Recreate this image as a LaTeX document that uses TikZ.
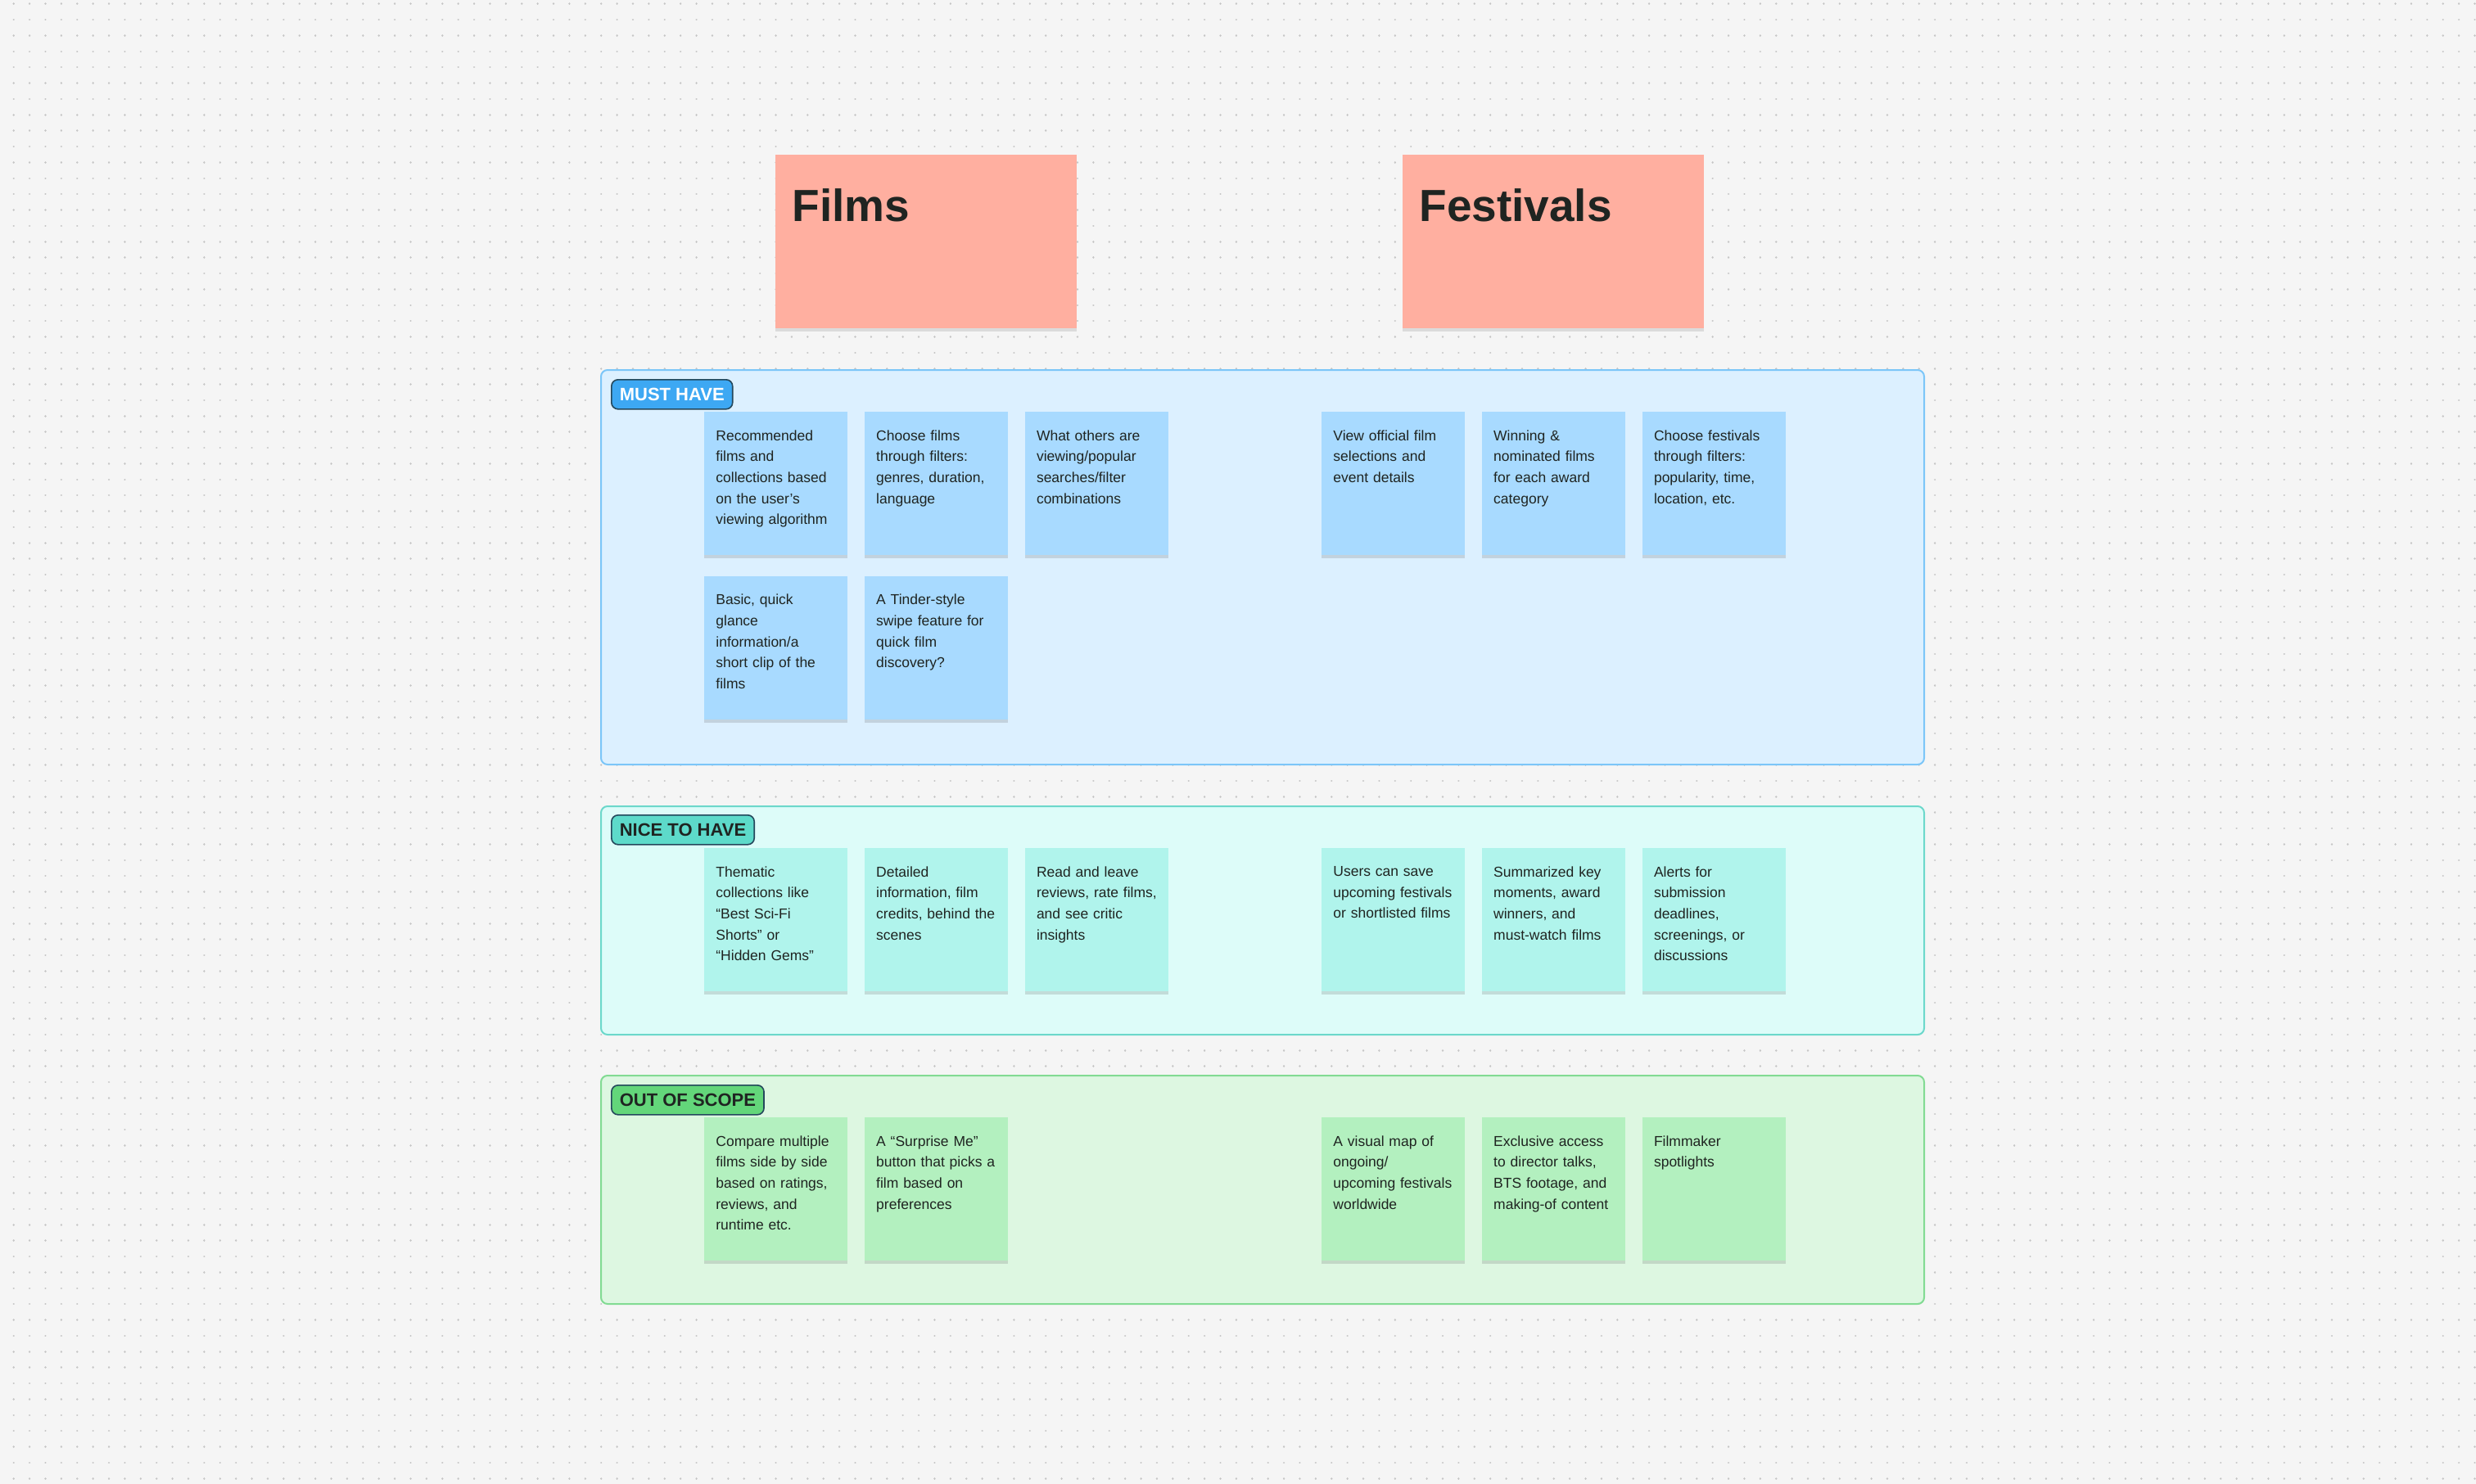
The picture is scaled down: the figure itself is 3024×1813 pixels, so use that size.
\documentclass[tikz,border=0pt]{standalone}
\usepackage{fontspec}
\setmainfont{Liberation Sans}
\usetikzlibrary{positioning,shadows}

\definecolor{canvas}{HTML}{F5F5F5}
\definecolor{dotgray}{HTML}{C6C6C6}
\definecolor{ink}{HTML}{1F2421}
\definecolor{titlenote}{HTML}{FFAFA0}
\definecolor{mustbg}{HTML}{DCF0FF}
\definecolor{mustline}{HTML}{7CC6F8}
\definecolor{mustnote}{HTML}{A8DAFF}
\definecolor{musttag}{HTML}{3DA8F3}
\definecolor{nicebg}{HTML}{DDFCF9}
\definecolor{niceline}{HTML}{6CD8CB}
\definecolor{nicenote}{HTML}{B0F4EC}
\definecolor{nicetag}{HTML}{5DDACA}
\definecolor{outbg}{HTML}{DDF7E1}
\definecolor{outline}{HTML}{82DB93}
\definecolor{outnote}{HTML}{B3F0BF}
\definecolor{outtag}{HTML}{63D67A}
\definecolor{tagline}{HTML}{24485C}

\begin{document}
\begin{tikzpicture}[x=0.5pt, y=-0.5pt,
    band/.style={line width=1pt, rounded corners=4pt, anchor=north west, inner sep=0pt},
    prioritytag/.style={draw=tagline, line width=0.8pt, rounded corners=4pt, minimum height=18pt,
      inner xsep=5pt, inner ysep=0pt, font=\fontsize{11}{13}\selectfont\bfseries},
    sticky/.style={minimum width=87.5pt, minimum height=87.5pt, inner sep=0pt,
      drop shadow={shadow xshift=0pt, shadow yshift=-2pt, opacity=0.18, fill=black!70}},
    notetext/.style={text width=82pt, align=left, inner sep=0pt, text=ink,
      font=\fontsize{8.75}{12.85}\selectfont},
    header/.style={anchor=north west, minimum width=184pt, minimum height=106pt, inner sep=0pt,
      fill=titlenote, drop shadow={shadow xshift=0pt, shadow yshift=-2pt, opacity=0.15, fill=black!70}},
    headertext/.style={anchor=base west, inner sep=0pt, text=ink, font=\fontsize{27.5}{30}\selectfont\bfseries},
    dotrow/.style={draw=dotgray, line width=1.25pt, line cap=round, dash pattern=on 0.01pt off 9.686pt}]

    % canvas
    \useasboundingbox (0,0) rectangle (3024,1813);
    \fill[canvas] (0,0) rectangle (3024,1813);
    \foreach \k in {0,...,93}
    \draw[dotrow] (16.7,{4.7+19.372*\k}) -- (3024,{4.7+19.372*\k});

    % headers
    \node[header] (films) at (947,189) {};
    \node[headertext] (filmslbl) at ([shift={(10pt,-41pt)}]films.north west) {Films};
    \node[header] (fests) at (1713,189) {};
    \node[headertext] (festslbl) at ([shift={(10pt,-41pt)}]fests.north west) {Festivals};

    % priority bands
    \node[band, draw=mustline, fill=mustbg, minimum width=808pt, minimum height=241pt] (must) at (733,451) {};
    \node[band, draw=niceline, fill=nicebg, minimum width=808pt, minimum height=139.5pt] (nice) at (733,984) {};
    \node[band, draw=outline, fill=outbg, minimum width=808pt, minimum height=139.5pt] (out) at (733,1313) {};

    \node[prioritytag, fill=musttag, text=white, below right=6pt and 6.5pt of must.north west] (musttag) {MUST HAVE};
    \node[prioritytag, fill=nicetag, text=ink, below right=5.5pt and 6.5pt of nice.north west] (nicetag) {NICE TO HAVE};
    \node[prioritytag, fill=outtag, text=ink, below right=6pt and 6.5pt of out.north west] (outtag) {OUT OF SCOPE};

    % must have
    \node[sticky, fill=mustnote, anchor=north west] (m1) at (860,503) {};
    \node[sticky, fill=mustnote, right=10pt of m1] (m2) {};
    \node[sticky, fill=mustnote, right=10pt of m2] (m3) {};
    \node[sticky, fill=mustnote, below=12.5pt of m1] (m4) {};
    \node[sticky, fill=mustnote, right=10pt of m4] (m5) {};
    \node[sticky, fill=mustnote, anchor=north west] (m6) at (1614,503) {};
    \node[sticky, fill=mustnote, right=10pt of m6] (m7) {};
    \node[sticky, fill=mustnote, right=10pt of m7] (m8) {};

    \node[notetext, below right=11pt and 7pt of m1.north west] (m1t)
    {Recommended\\films and\\collections based\\on the user’s\\viewing algorithm};
    \node[notetext, below right=11pt and 7pt of m2.north west] (m2t)
    {Choose films\\through filters:\\genres, duration,\\language};
    \node[notetext, below right=11pt and 7pt of m3.north west] (m3t)
    {What others are\\viewing/popular\\searches/filter\\combinations};
    \node[notetext, below right=11pt and 7pt of m4.north west] (m4t)
    {Basic, quick\\glance\\information/a\\short clip of the\\films};
    \node[notetext, below right=11pt and 7pt of m5.north west] (m5t)
    {A Tinder-style\\swipe feature for\\quick film\\discovery?};
    \node[notetext, below right=11pt and 7pt of m6.north west] (m6t)
    {View official film\\selections and\\event details};
    \node[notetext, below right=11pt and 7pt of m7.north west] (m7t)
    {Winning \&\\nominated films\\for each award\\category};
    \node[notetext, below right=11pt and 7pt of m8.north west] (m8t)
    {Choose festivals\\through filters:\\popularity, time,\\location, etc.};

    % nice to have
    \node[sticky, fill=nicenote, anchor=north west] (n1) at (860,1036) {};
    \node[sticky, fill=nicenote, right=10pt of n1] (n2) {};
    \node[sticky, fill=nicenote, right=10pt of n2] (n3) {};
    \node[sticky, fill=nicenote, anchor=north west] (n4) at (1614,1036) {};
    \node[sticky, fill=nicenote, right=10pt of n4] (n5) {};
    \node[sticky, fill=nicenote, right=10pt of n5] (n6) {};

    \node[notetext, below right=11pt and 7pt of n1.north west] (n1t)
    {Thematic\\collections like\\“Best Sci-Fi\\Shorts” or\\“Hidden Gems”};
    \node[notetext, below right=11pt and 7pt of n2.north west] (n2t)
    {Detailed\\information, film\\credits, behind the\\scenes};
    \node[notetext, below right=11pt and 7pt of n3.north west] (n3t)
    {Read and leave\\reviews, rate films,\\and see critic\\insights};
    \node[notetext, below right=11pt and 7pt of n4.north west] (n4t)
    {Users can save\\upcoming festivals\\or shortlisted films};
    \node[notetext, below right=11pt and 7pt of n5.north west] (n5t)
    {Summarized key\\moments, award\\winners, and\\must-watch films};
    \node[notetext, below right=11pt and 7pt of n6.north west] (n6t)
    {Alerts for\\submission\\deadlines,\\screenings, or\\discussions};

    % out of scope
    \node[sticky, fill=outnote, anchor=north west] (o1) at (860,1365) {};
    \node[sticky, fill=outnote, right=10pt of o1] (o2) {};
    \node[sticky, fill=outnote, anchor=north west] (o3) at (1614,1365) {};
    \node[sticky, fill=outnote, right=10pt of o3] (o4) {};
    \node[sticky, fill=outnote, right=10pt of o4] (o5) {};

    \node[notetext, below right=11pt and 7pt of o1.north west] (o1t)
    {Compare multiple\\films side by side\\based on ratings,\\reviews, and\\runtime etc.};
    \node[notetext, below right=11pt and 7pt of o2.north west] (o2t)
    {A “Surprise Me”\\button that picks a\\film based on\\preferences};
    \node[notetext, below right=11pt and 7pt of o3.north west] (o3t)
    {A visual map of\\ongoing/\\upcoming festivals\\worldwide};
    \node[notetext, below right=11pt and 7pt of o4.north west] (o4t)
    {Exclusive access\\to director talks,\\BTS footage, and\\making-of content};
    \node[notetext, below right=11pt and 7pt of o5.north west] (o5t)
    {Filmmaker\\spotlights};
\end{tikzpicture}
\end{document}
